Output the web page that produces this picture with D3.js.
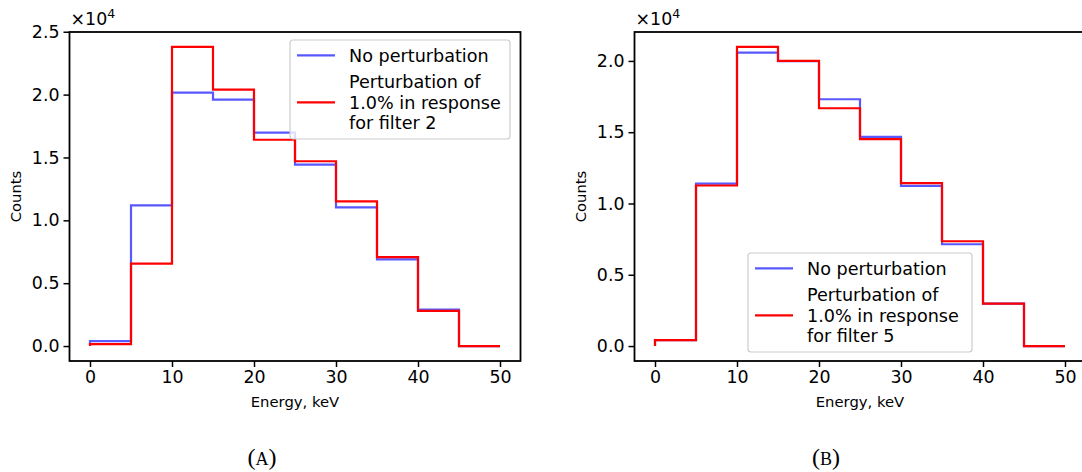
<!DOCTYPE html>
<html><head><meta charset="utf-8">
<script src="https://cdn.jsdelivr.net/npm/d3@7"></script>
<style>
body{margin:0;background:#fff}
svg{display:block}
text{font-family:"DejaVu Sans",sans-serif;fill:#000}
</style>
</head><body>
<svg id="c" width="1082" height="472"></svg>
<script>
// ---- data ----
const binEdges = [0, 5, 10, 15, 20, 25, 30, 35, 40, 45, 50];
const countsNoPertA = [390, 11190, 20160, 19600, 16970, 14430, 11030, 6890, 2890, 0];
const countsPertA   = [160, 6550, 23790, 20400, 16410, 14700, 11500, 7080, 2790, 0];
const countsNoPertB = [420, 11400, 20580, 19980, 17310, 14670, 11240, 7140, 2980, 0];
const countsPertB   = [420, 11260, 20980, 20000, 16680, 14510, 11430, 7350, 2980, 0];
const xTickValues = [0, 10, 20, 30, 40, 50];
const xTickLabels = ["0", "10", "20", "30", "40", "50"];
const yTickValuesA = [0, 5000, 10000, 15000, 20000, 25000];
const yTickLabelsA = ["0.0", "0.5", "1.0", "1.5", "2.0", "2.5"];
const yTickValuesB = [0, 5000, 10000, 15000, 20000];
const yTickLabelsB = ["0.0", "0.5", "1.0", "1.5", "2.0"];
const legendNoPert = "No perturbation";
const legendPertA = ["Perturbation of", "1.0% in response", "for filter 2"];
const legendPertB = ["Perturbation of", "1.0% in response", "for filter 5"];
const xLabel = "Energy, keV";
const yLabel = "Counts";
const offsetBase = "×10";
const offsetExp = "4";
const captions = ["A", "B"];

const svg = d3.select("#c");
const BLUE = "rgb(88,88,255)";
const RED = "#ff0000";

function stepPoints(vals) {
  const pts = [[binEdges[0], 0]];
  vals.forEach((v, i) => { pts.push([binEdges[i], v]); pts.push([binEdges[i + 1], v]); });
  pts.push([binEdges[binEdges.length - 1], 0]);
  return pts;
}

function panel(cfg) {
  const g = svg.append("g");
  const vmax = d3.max([...cfg.noPert, ...cfg.pert]);
  const x = d3.scaleLinear().domain([-2.5, 52.5]).range([cfg.left, cfg.right]);
  const y = d3.scaleLinear().domain([-0.05 * vmax, 1.05 * vmax]).range([cfg.bottom, cfg.top]);

  const line = d3.line().x(d => x(d[0])).y(d => y(d[1]));
  g.append("path").attr("d", line(stepPoints(cfg.noPert)))
    .attr("fill", "none").attr("stroke", BLUE).attr("stroke-width", 2.2);
  g.append("path").attr("d", line(stepPoints(cfg.pert)))
    .attr("fill", "none").attr("stroke", RED).attr("stroke-width", 2.2);

  // axes
  const xa = g.append("g").attr("transform", `translate(0,${cfg.bottom})`)
    .call(d3.axisBottom(x).tickValues(xTickValues).tickFormat((d, i) => xTickLabels[i]).tickSize(6).tickPadding(4));
  const ya = g.append("g").attr("transform", `translate(${cfg.left},0)`)
    .call(d3.axisLeft(y).tickValues(cfg.yTicks).tickFormat((d, i) => cfg.yLabels[i]).tickSize(6).tickPadding(4));
  [xa, ya].forEach(a => {
    a.select(".domain").remove();
    a.selectAll("line").attr("stroke", "#000").attr("stroke-width", 1.5);
    a.selectAll("text").attr("font-size", "17.4px").attr("font-family", "DejaVu Sans").attr("fill", "#000");
  });

  // frame
  g.append("rect").attr("x", cfg.left).attr("y", cfg.top)
    .attr("width", cfg.right - cfg.left).attr("height", cfg.bottom - cfg.top)
    .attr("fill", "none").attr("stroke", "#000").attr("stroke-width", 1.8);

  // labels
  g.append("text").attr("x", (cfg.left + cfg.right) / 2).attr("y", cfg.bottom + 46)
    .attr("text-anchor", "middle").attr("font-size", "14.8px").text(xLabel);
  g.append("text").attr("transform", `translate(${cfg.left - 49},${(cfg.top + cfg.bottom) / 2}) rotate(-90)`)
    .attr("text-anchor", "middle").attr("font-size", "14.8px").text(yLabel);
  const off = g.append("text").attr("x", cfg.left + 1).attr("y", cfg.top - 7).attr("font-size", "17.4px");
  off.append("tspan").text(offsetBase);
  off.append("tspan").attr("dy", -7).attr("font-size", "12.5px").text(offsetExp);

  // legend
  const L = cfg.legend;
  g.append("rect").attr("x", L.x).attr("y", L.y).attr("width", L.w).attr("height", L.h)
    .attr("rx", 3).attr("fill", "#fff").attr("fill-opacity", 0.8)
    .attr("stroke", "#cccccc").attr("stroke-width", 1.2);
  const lx0 = L.x + 7, lx1 = L.x + 45, tx = L.x + 59;
  const r0 = L.y + 15.3;
  g.append("line").attr("x1", lx0).attr("x2", lx1).attr("y1", r0).attr("y2", r0)
    .attr("stroke", BLUE).attr("stroke-width", 2.2);
  g.append("text").attr("x", tx).attr("y", r0).attr("dy", "0.36em").attr("font-size", "17.6px").text(legendNoPert);
  const rows = [L.y + 41.7, L.y + 62.3, L.y + 82.5];
  cfg.pertLabel.forEach((t, i) => {
    g.append("text").attr("x", tx).attr("y", rows[i]).attr("dy", "0.36em").attr("font-size", "17.6px").text(t);
  });
  g.append("line").attr("x1", lx0).attr("x2", lx1).attr("y1", rows[1]).attr("y2", rows[1])
    .attr("stroke", RED).attr("stroke-width", 2.2);

  // caption
  const cap = svg.append("text").attr("x", cfg.capX).attr("y", 465).attr("text-anchor", "middle")
    .style("font-family", "'Liberation Serif', 'DejaVu Serif', serif").attr("font-size", "24px");
  cap.append("tspan").text("(");
  cap.append("tspan").attr("font-size", "18px").text(cfg.caption);
  cap.append("tspan").text(")");
}

panel({left: 69.5, right: 520.5, top: 32, bottom: 361,
  noPert: countsNoPertA, pert: countsPertA, yTicks: yTickValuesA, yLabels: yTickLabelsA,
  legend: {x: 290, y: 40, w: 220, h: 99}, pertLabel: legendPertA, caption: captions[0], capX: 262});
panel({left: 634.5, right: 1085.5, top: 32, bottom: 361,
  noPert: countsNoPertB, pert: countsPertB, yTicks: yTickValuesB, yLabels: yTickLabelsB,
  legend: {x: 748, y: 253, w: 224, h: 99}, pertLabel: legendPertB, caption: captions[1], capX: 826});
</script>
</body></html>
